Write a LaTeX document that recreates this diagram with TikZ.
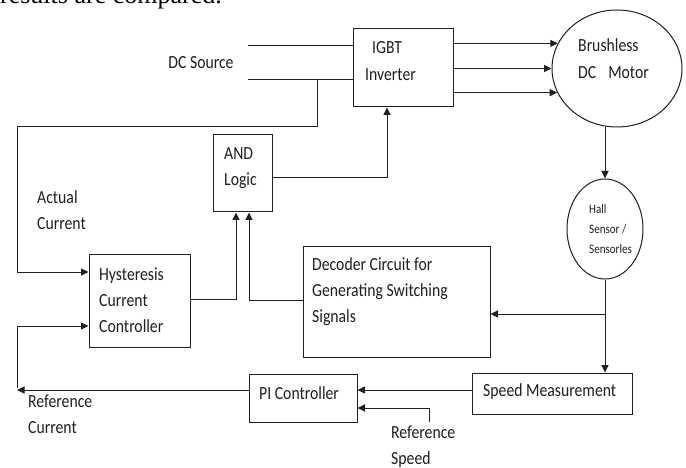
\documentclass[tikz,border=0pt]{standalone}
\usepackage{fontspec}
\setmainfont{Carlito}[FakeStretch=0.85]
\newfontfamily\serifpage{Liberation Serif}
\usetikzlibrary{arrows.meta,shapes.geometric}
\tikzset{
  box/.style={draw=black!88, line width=1pt, inner sep=0pt},
  oval/.style={ellipse, draw=black!88, line width=1pt, inner sep=0pt},
  conn/.style={draw=black!88, line width=1pt},
  arr/.style={conn, -{Triangle[length=7.5pt,width=7pt]}},
  lbl/.style={inner sep=0pt, anchor=west, align=left, text=black!88,
    font={\fontsize{18.5}{26}\selectfont}},
  smalllbl/.style={inner sep=0pt, anchor=west, align=left, text=black!88,
    font={\fontsize{13}{20}\selectfont}},
}
\begin{document}
\begin{tikzpicture}[x=1pt,y=-1pt]
\useasboundingbox (0,0) rectangle (686,468);
\clip (0,0) rectangle (686,468);
\fill[white] (0,0) rectangle (686,468);

% cropped page text at top
\node[inner sep=0pt, anchor=base east, font={\serifpage\fontsize{26}{30}\selectfont}] (pagetext) at (222,3.5) {results are compared.};

% blocks
\node[box, minimum width=100pt, minimum height=78pt] (igbt) at (403,68) {};
\node[box, minimum width=59pt, minimum height=77pt] (and) at (242.5,173.5) {};
\node[box, minimum width=101pt, minimum height=93pt] (hyst) at (139.5,300.5) {};
\node[box, minimum width=187pt, minimum height=111pt] (dec) at (396.5,301.5) {};
\node[box, minimum width=108pt, minimum height=48pt] (pi) at (303,398) {};
\node[box, minimum width=160pt, minimum height=41pt] (speed) at (552,393.5) {};
\node[oval, minimum width=130pt, minimum height=117pt] (motor) at (617,68.5) {};
\node[oval, minimum width=76pt, minimum height=100pt] (hall) at (605,229) {};

% texts
\node[lbl, anchor=center] (tdc) at (201,63) {DC Source};
\node[lbl] (tigbt1) at (372,48) {IGBT};
\node[lbl] (tigbt2) at (365,75) {Inverter};
\node[lbl] (tand) at (224,168.5) {AND\\Logic};
\node[lbl] (tact) at (37,210) {Actual\\Current};
\node[lbl] (thyst) at (99,300) {Hysteresis\\Current\\Controller};
\node[lbl] (tdec) at (312,292) {Decoder Circuit for\\Generating Switching\\Signals};
\node[lbl] (tpi) at (259,393) {PI Controller};
\node[lbl] (tspeed) at (483,392) {Speed Measurement};
\node[lbl] (trc) at (28,414) {Reference\\Current};
\node[lbl] (trs) at (391,446.5) {Reference\\Speed};
\node[lbl] (tmot1) at (578,45) {Brushless};
\node[lbl] (tmot2) at (578,73) {DC\hspace{12pt}Motor};
\node[smalllbl] (thall) at (589,229) {Hall\\Sensor /\\Sensorles};

% coordinates for connectors
\coordinate (dc1) at (248,46);
\coordinate (dc2) at (248,80);
\coordinate (tap) at (317,80);
\coordinate (fb1) at (17,127);
\coordinate (hin1) at (17,272);
\coordinate (rc) at (17,390);
\coordinate (rc2) at (17,388);
\coordinate (hin2) at (17,326);
\coordinate (h2a) at (236,299);
\coordinate (d2a) at (249,300);
\coordinate (a2i) at (387,178);
\coordinate (mh) at (605,0);
\coordinate (br) at (605,314);
\coordinate (s2p) at (0,390);
\coordinate (rs) at (429,422);
\coordinate (rs2) at (429,408);

% connectors
\draw[conn] (dc1) -- (dc1 -| igbt.west);
\draw[conn] (dc2) -- (dc2 -| igbt.west);
\draw[arr] (tap) |- (fb1) -- (hin1) -- (hin1 -| hyst.west);
\draw[arr] (pi.west |- rc) -- (rc);
\draw[arr] (rc2) -- (hin2) -- (hin2 -| hyst.west);
\draw[arr] (hyst.east |- h2a) -- (h2a) -- (h2a |- and.south);
\draw[arr] (dec.west |- d2a) -- (d2a) -- (d2a |- and.south);
\draw[arr] (and.east |- a2i) -- (a2i) -- (a2i |- igbt.south);
\draw[arr] (igbt.east |- motor.157.5) -- (motor.157.5);
\draw[arr] (igbt.east |- motor.west) -- (motor.west);
\draw[arr] (igbt.east |- motor.202.5) -- (motor.202.5);
\draw[arr] (mh |- motor.south) -- (hall.north);
\draw[arr] (hall.south) -- (hall.south |- speed.north);
\draw[arr] (br) -- (br -| dec.east);
\draw[arr] (speed.west |- s2p) -- (pi.east |- s2p);
\draw[arr] (rs) -- (rs2) -- (rs2 -| pi.east);
\end{tikzpicture}
\end{document}
